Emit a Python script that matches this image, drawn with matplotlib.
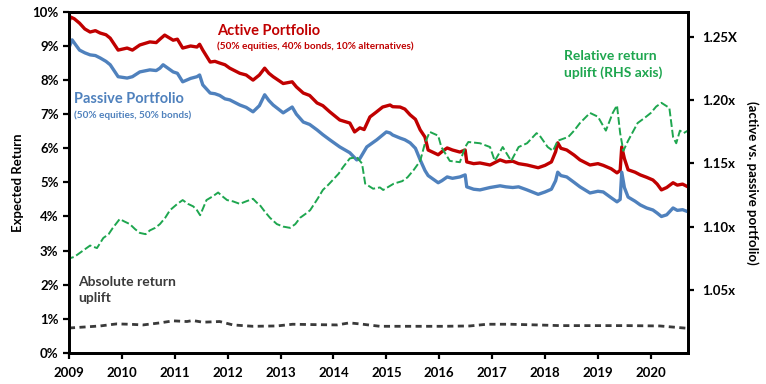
import matplotlib
matplotlib.use("Agg")
import matplotlib.pyplot as plt

# ---- data (decimal years) ----
act_x = [2009.0, 2009.03, 2009.1, 2009.2, 2009.3, 2009.4, 2009.5, 2009.59, 2009.7, 2009.78, 2009.93, 2010.1,
         2010.2, 2010.34, 2010.53, 2010.65, 2010.72, 2010.81, 2010.97, 2011.05, 2011.15, 2011.3, 2011.42, 2011.47,
         2011.53, 2011.67, 2011.76, 2011.85, 2011.95, 2012.04, 2012.23, 2012.35, 2012.48, 2012.6, 2012.7, 2012.78,
         2012.86, 2013.05, 2013.22, 2013.3, 2013.43, 2013.55, 2013.69, 2013.8, 2013.93, 2014.12, 2014.31, 2014.4,
         2014.5, 2014.58, 2014.69, 2014.8, 2014.93, 2015.07, 2015.12, 2015.26, 2015.35, 2015.45, 2015.55, 2015.64,
         2015.73, 2015.79, 2015.98, 2016.05, 2016.15, 2016.25, 2016.39, 2016.49, 2016.52, 2016.65, 2016.77, 2016.96,
         2017.15, 2017.26, 2017.39, 2017.5, 2017.66, 2017.87, 2018.0, 2018.12, 2018.2, 2018.24, 2018.3, 2018.41,
         2018.55, 2018.66, 2018.85, 2019.0, 2019.1, 2019.25, 2019.36, 2019.42, 2019.45, 2019.5, 2019.57, 2019.7,
         2019.8, 2019.92, 2020.04, 2020.12, 2020.2, 2020.3, 2020.42, 2020.5, 2020.6, 2020.7]
active = [9.70, 9.85, 9.80, 9.67, 9.50, 9.41, 9.45, 9.38, 9.33, 9.23, 8.88, 8.94,
          8.88, 9.03, 9.12, 9.10, 9.20, 9.32, 9.17, 9.20, 8.94, 9.00, 8.97, 9.05,
          8.88, 8.53, 8.55, 8.50, 8.45, 8.35, 8.20, 8.15, 8.00, 8.15, 8.35, 8.20,
          8.10, 7.90, 7.95, 7.80, 7.62, 7.55, 7.33, 7.25, 7.07, 6.83, 6.74, 6.48,
          6.60, 6.55, 6.92, 7.05, 7.21, 7.27, 7.22, 7.21, 7.15, 6.98, 6.85, 6.54,
          6.33, 5.95, 5.81, 5.90, 6.01, 5.95, 5.89, 5.95, 5.60, 5.55, 5.57, 5.51,
          5.66, 5.60, 5.62, 5.55, 5.51, 5.43, 5.50, 5.60, 5.90, 6.16, 6.00, 5.95,
          5.80, 5.66, 5.51, 5.55, 5.50, 5.40, 5.28, 5.35, 6.04, 5.70, 5.37, 5.30,
          5.22, 5.15, 5.07, 4.95, 4.78, 4.85, 4.99, 4.92, 4.95, 4.87]

pas_x = [2009.0, 2009.06, 2009.12, 2009.2, 2009.3, 2009.4, 2009.5, 2009.59, 2009.7, 2009.78, 2009.93, 2010.1,
         2010.2, 2010.34, 2010.53, 2010.65, 2010.72, 2010.78, 2010.97, 2011.05, 2011.15, 2011.3, 2011.42, 2011.47,
         2011.53, 2011.67, 2011.76, 2011.85, 2011.95, 2012.04, 2012.23, 2012.35, 2012.48, 2012.6, 2012.7, 2012.78,
         2012.86, 2013.05, 2013.22, 2013.3, 2013.43, 2013.55, 2013.69, 2013.8, 2013.93, 2014.12, 2014.31, 2014.44,
         2014.5, 2014.63, 2014.82, 2015.0, 2015.07, 2015.12, 2015.26, 2015.35, 2015.45, 2015.55, 2015.64, 2015.73,
         2015.79, 2015.98, 2016.05, 2016.15, 2016.25, 2016.39, 2016.49, 2016.52, 2016.65, 2016.77, 2016.96, 2017.15,
         2017.26, 2017.39, 2017.5, 2017.66, 2017.87, 2018.0, 2018.12, 2018.2, 2018.24, 2018.3, 2018.41, 2018.55,
         2018.66, 2018.85, 2019.0, 2019.1, 2019.25, 2019.36, 2019.42, 2019.45, 2019.5, 2019.57, 2019.7, 2019.8,
         2019.92, 2020.04, 2020.12, 2020.2, 2020.3, 2020.42, 2020.5, 2020.6, 2020.7]
passive = [8.95, 9.18, 9.05, 8.88, 8.80, 8.74, 8.72, 8.65, 8.55, 8.45, 8.10, 8.06,
           8.10, 8.24, 8.30, 8.28, 8.35, 8.45, 8.24, 8.20, 7.95, 8.05, 8.10, 8.15,
           7.86, 7.62, 7.60, 7.55, 7.45, 7.42, 7.27, 7.20, 7.07, 7.25, 7.57, 7.40,
           7.27, 7.04, 7.21, 7.00, 6.77, 6.70, 6.54, 6.40, 6.25, 6.04, 5.87, 5.66,
           5.70, 6.04, 6.25, 6.48, 6.45, 6.39, 6.30, 6.25, 6.16, 6.00, 5.66, 5.35,
           5.20, 4.99, 5.05, 5.16, 5.12, 5.16, 5.22, 4.87, 4.80, 4.78, 4.85, 4.90,
           4.87, 4.85, 4.87, 4.78, 4.65, 4.72, 4.80, 5.05, 5.30, 5.20, 5.16, 5.00,
           4.87, 4.69, 4.74, 4.72, 4.55, 4.43, 4.50, 5.30, 4.85, 4.57, 4.45, 4.34,
           4.25, 4.19, 4.10, 4.00, 4.05, 4.25, 4.18, 4.20, 4.14]

rel_x = [2009.0, 2009.02, 2009.1, 2009.2, 2009.3, 2009.4, 2009.53, 2009.65, 2009.75, 2009.83, 2009.96, 2010.05,
         2010.15, 2010.25, 2010.34, 2010.45, 2010.53, 2010.63, 2010.72, 2010.82, 2010.91, 2011.05, 2011.15, 2011.25,
         2011.35, 2011.42, 2011.48, 2011.6, 2011.72, 2011.82, 2011.9, 2011.99, 2012.1, 2012.23, 2012.35, 2012.48,
         2012.55, 2012.61, 2012.7, 2012.8, 2012.93, 2013.05, 2013.18, 2013.28, 2013.37, 2013.47, 2013.56, 2013.7,
         2013.8, 2013.9, 2013.99, 2014.1, 2014.18, 2014.31, 2014.44, 2014.54, 2014.6, 2014.75, 2014.88, 2014.94,
         2015.14, 2015.3, 2015.4, 2015.52, 2015.64, 2015.73, 2015.82, 2015.98, 2016.04, 2016.2, 2016.39, 2016.49,
         2016.55, 2016.77, 2016.96, 2017.05, 2017.2, 2017.36, 2017.5, 2017.66, 2017.84, 2017.9, 2018.05, 2018.15,
         2018.24, 2018.44, 2018.55, 2018.66, 2018.85, 2019.0, 2019.15, 2019.28, 2019.36, 2019.42, 2019.48, 2019.57,
         2019.75, 2019.88, 2020.0, 2020.1, 2020.2, 2020.35, 2020.42, 2020.48, 2020.55, 2020.62, 2020.7]
relative = [1.072, 1.075, 1.076, 1.079, 1.082, 1.085, 1.083, 1.091, 1.094, 1.099, 1.106, 1.104,
            1.102, 1.098, 1.095, 1.094, 1.097, 1.099, 1.102, 1.107, 1.113, 1.118, 1.121, 1.118,
            1.116, 1.113, 1.109, 1.121, 1.124, 1.127, 1.124, 1.121, 1.120, 1.118, 1.120, 1.122,
            1.119, 1.117, 1.112, 1.107, 1.102, 1.100, 1.099, 1.102, 1.107, 1.110, 1.113, 1.122,
            1.129, 1.133, 1.137, 1.142, 1.147, 1.154, 1.155, 1.150, 1.134, 1.130, 1.131, 1.129,
            1.134, 1.136, 1.139, 1.145, 1.152, 1.166, 1.175, 1.172, 1.163, 1.152, 1.151, 1.163,
            1.167, 1.166, 1.163, 1.152, 1.163, 1.152, 1.163, 1.166, 1.174, 1.172, 1.163, 1.160,
            1.168, 1.171, 1.176, 1.182, 1.190, 1.187, 1.176, 1.190, 1.196, 1.174, 1.160, 1.168,
            1.182, 1.186, 1.190, 1.195, 1.198, 1.194, 1.171, 1.166, 1.176, 1.174, 1.176]

abs_x = [2009.0, 2009.2, 2009.4, 2009.59, 2009.9, 2010.15, 2010.4, 2010.72, 2010.97, 2011.23, 2011.34, 2011.53,
         2011.85, 2012.1, 2012.48, 2012.93, 2013.23, 2013.61, 2014.07, 2014.3, 2014.5, 2014.88, 2015.45, 2016.07,
         2016.58, 2016.9, 2017.34, 2017.85, 2018.28, 2018.9, 2019.55, 2020.17, 2020.55, 2020.7]
absolute = [0.73, 0.75, 0.77, 0.79, 0.85, 0.84, 0.82, 0.88, 0.94, 0.92, 0.95, 0.90,
            0.92, 0.82, 0.78, 0.79, 0.84, 0.83, 0.82, 0.88, 0.85, 0.78, 0.78, 0.78,
            0.79, 0.84, 0.84, 0.82, 0.80, 0.80, 0.80, 0.79, 0.74, 0.72]

year_ticks = [2009, 2010, 2011, 2012, 2013, 2014, 2015, 2016, 2017, 2018, 2019, 2020]
left_ticks = [0, 1, 2, 3, 4, 5, 6, 7, 8, 9, 10]
right_ticks = [1.05, 1.10, 1.15, 1.20, 1.25]
right_labels = ["1.05x", "1.10x", "1.15x", "1.20x", "1.25X"]

# ---- style ----
plt.rcParams["font.family"] = ["Lato", "DejaVu Sans"]
RED = "#c00000"
BLUE = "#4f81bd"
GREEN = "#1ea64f"
DARK = "#3a3a3a"

fig = plt.figure(figsize=(7.66, 3.84), dpi=100)
ax = fig.add_axes([0.090, 0.081, 0.808, 0.888])
ax2 = ax.twinx()

ax.plot(act_x, active, color=RED, lw=2.4, zorder=3)
ax.plot(pas_x, passive, color=BLUE, lw=2.4, zorder=3)
ax.plot(abs_x, absolute, color=DARK, lw=2.0, ls=(0, (2.2, 1.6)), zorder=3)
ax2.plot(rel_x, relative, color=GREEN, lw=1.4, ls=(0, (4, 1.5)), zorder=2)

ax.set_xlim(2009, 2020.7)
ax.set_ylim(0, 10)
ax2.set_ylim(1.0, 1.27)

ax.set_xticks(year_ticks)
ax.set_xticklabels([str(y) for y in year_ticks])
ax.set_yticks(left_ticks)
ax.set_yticklabels([f"{v}%" for v in left_ticks])
ax2.set_yticks(right_ticks)
ax2.set_yticklabels(right_labels)

for a in (ax, ax2):
    for s in a.spines.values():
        s.set_linewidth(2.0)
        s.set_color("black")
    a.tick_params(width=1.6, length=4, labelsize=9.5, colors="black")
    for lab in a.get_xticklabels() + a.get_yticklabels():
        lab.set_fontweight("bold")
ax.tick_params(axis="x", pad=6)
ax2.tick_params(axis="y", pad=6)

ax.set_ylabel("Expected Return", fontsize=9.5, fontweight="bold", labelpad=6)
ax2.set_ylabel("(active vs. passive portfolio)", fontsize=9.5, fontweight="bold",
               rotation=270, labelpad=16)

# annotations
ax.text(2011.8, 9.45, "Active Portfolio", color=RED, fontsize=10.5, fontweight="bold", va="center")
ax.text(2011.8, 9.0, "(50% equities, 40% bonds, 10% alternatives)", color=RED, fontsize=7.2,
        fontweight="bold", va="center")
ax.text(2009.1, 7.45, "Passive Portfolio", color=BLUE, fontsize=10.5, fontweight="bold", va="center")
ax.text(2009.1, 6.98, "(50% equities, 50% bonds)", color=BLUE, fontsize=7.2, fontweight="bold", va="center")
ax.text(2018.35, 8.45, "Relative return\nuplift (RHS axis)", color=GREEN, fontsize=10, fontweight="bold",
        va="center", ha="left", linespacing=1.45)
ax.text(2009.17, 1.85, "Absolute return\nuplift", color=DARK, fontsize=10, fontweight="bold",
        va="center", ha="left", linespacing=1.45)

fig.savefig("out.png", dpi=100)
